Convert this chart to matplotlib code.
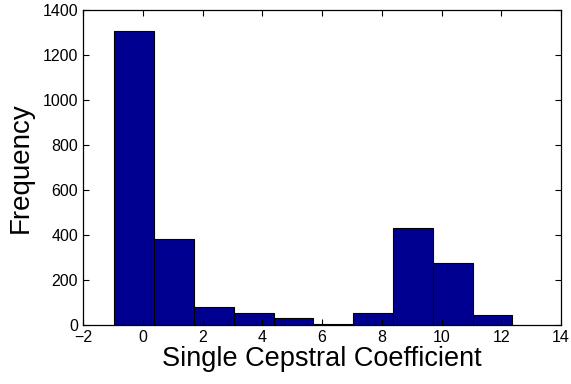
import numpy as np
import matplotlib
matplotlib.use("Agg")
import matplotlib.pyplot as plt

# histogram bins (10 equal-width bins)
bin_edges = np.linspace(-0.95, 12.37, 11)
counts = [1305, 384, 78, 53, 31, 5, 53, 430, 277, 46]

x_ticks = [-2, 0, 2, 4, 6, 8, 10, 12, 14]
y_ticks = [0, 200, 400, 600, 800, 1000, 1200, 1400]

plt.rcParams['font.family'] = ['Liberation Sans', 'DejaVu Sans']

fig = plt.figure(figsize=(5.71, 3.84), dpi=100)
ax = fig.add_axes([0.1454, 0.1536, 0.9825 - 0.1454, 0.974 - 0.1536])

widths = np.diff(bin_edges)
ax.bar(bin_edges[:-1], counts, width=widths, align='edge',
       color='#000090', edgecolor='black', linewidth=0.8)

ax.set_xlim(-2, 14)
ax.set_ylim(0, 1400)
ax.set_xticks(x_ticks)
ax.set_yticks(y_ticks)
ax.tick_params(direction='in', top=True, right=True, labelsize=11.5,
               length=4, width=0.8)
for s in ax.spines.values():
    s.set_linewidth(0.9)

ax.set_xlabel('Single Cepstral Coefficient', fontsize=19.5, labelpad=1)
ax.set_ylabel('Frequency', fontsize=20, labelpad=6)

fig.savefig('out.png', dpi=100)
